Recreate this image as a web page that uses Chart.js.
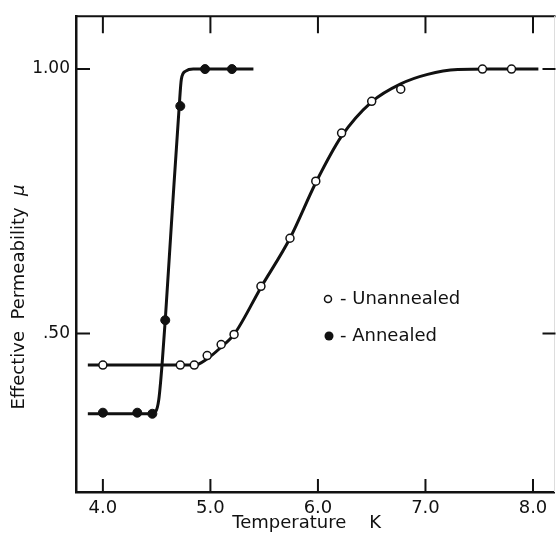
<!DOCTYPE html>
<html>
<head>
<meta charset="utf-8">
<script src="https://cdn.jsdelivr.net/npm/chart.js@4.4.0/dist/chart.umd.min.js"></script>
<style>
    html, body { margin: 0; padding: 0; background: #fff; overflow: hidden; }
    /* chart.js keeps a 5px right margin; widen a little so the frame hits the edge */
    #wrap { width: 560px; height: 534px; }
</style>
</head>
<body>
<div id="wrap"><canvas id="chart"></canvas></div>
<script>
// Measured points
const unannealedT  = [4.0, 4.72, 4.85, 4.97, 5.10, 5.22, 5.47, 5.74, 5.98, 6.22, 6.50, 6.77, 7.53, 7.80];
const unannealedMu = [0.44, 0.44, 0.44, 0.458, 0.479, 0.498, 0.589, 0.680, 0.788, 0.879, 0.939, 0.962, 1.0, 1.0];
const annealedT  = [4.0, 4.32, 4.46, 4.58, 4.72, 4.95, 5.20];
const annealedMu = [0.35, 0.35, 0.348, 0.525, 0.93, 1.0, 1.0];

// Hand-drawn curves
const unannealedCurveT  = [3.86, 4.85, 4.97, 5.10, 5.22, 5.47, 5.74, 5.98, 6.22, 6.50, 6.77, 7.02, 7.30, 7.60, 8.05];
const unannealedCurveMu = [0.44, 0.44, 0.452, 0.474, 0.498, 0.587, 0.680, 0.785, 0.873, 0.938, 0.972, 0.990, 0.999, 1.0, 1.0];
const annealedCurveT  = [3.86, 4.44, 4.49, 4.52, 4.55, 4.58, 4.645, 4.71, 4.73, 4.77, 4.84, 5.40];
const annealedCurveMu = [0.348, 0.348, 0.352, 0.375, 0.44, 0.525, 0.731, 0.930, 0.981, 0.996, 1.0, 1.0];

// Axes
const xTicks = [4, 5, 6, 7, 8];
const xTickLabels = ['4.0', '5.0', '6.0', '7.0', '8.0'];
const yTicks = [0.5, 1.0];
const yTickLabels = ['.50', '1.00'];

const INK = '#111';
const FONT = '"DejaVu Sans", sans-serif';

const toXY = (xs, ys) => xs.map((x, i) => ({ x: x, y: ys[i] }));

// --- frame, inward ticks, y title, legend ---
const decorPlugin = {
    id: 'decor',
    afterDraw(chart) {
        const ctx = chart.ctx;
        const a = chart.chartArea;
        const xs = chart.scales.x;
        const ys = chart.scales.y;
        ctx.save();
        ctx.strokeStyle = INK;

        // top and right border
        ctx.lineWidth = 2;
        ctx.beginPath();
        ctx.moveTo(a.left, a.top);
        ctx.lineTo(a.right + 1, a.top);
        ctx.stroke();
        ctx.lineWidth = 1;
        ctx.strokeStyle = '#ddd';
        ctx.beginPath();
        ctx.moveTo(a.right, a.top);
        ctx.lineTo(a.right, a.bottom);
        ctx.stroke();

        // inward ticks
        ctx.strokeStyle = INK;
        ctx.lineWidth = 2;
        xTicks.forEach(v => {
            const px = xs.getPixelForValue(v);
            ctx.beginPath();
            ctx.moveTo(px, a.bottom);
            ctx.lineTo(px, a.bottom - 13);
            ctx.moveTo(px, a.top);
            ctx.lineTo(px, a.top + 17);
            ctx.stroke();
        });
        yTicks.forEach(v => {
            const py = ys.getPixelForValue(v);
            ctx.beginPath();
            ctx.moveTo(a.left, py);
            ctx.lineTo(a.left + 14, py);
            ctx.moveTo(a.right - 12, py);
            ctx.lineTo(a.right + 1, py);
            ctx.stroke();
        });

        // y axis title
        ctx.fillStyle = INK;
        ctx.textBaseline = 'middle';
        const t1 = 'Effective  Permeability  ';
        ctx.font = '18px ' + FONT;
        const w1 = ctx.measureText(t1).width;
        ctx.font = 'italic 18px ' + FONT;
        const w2 = ctx.measureText('μ').width;
        ctx.translate(19, 297);
        ctx.rotate(-Math.PI / 2);
        ctx.textAlign = 'left';
        ctx.font = '18px ' + FONT;
        ctx.fillText(t1, -(w1 + w2) / 2, 0);
        ctx.font = 'italic 18px ' + FONT;
        ctx.fillText('μ', -(w1 + w2) / 2 + w1, 0);
        ctx.setTransform(1, 0, 0, 1, 0, 0);

        // legend
        ctx.font = '18px ' + FONT;
        ctx.textAlign = 'left';
        ctx.lineWidth = 1.5;
        ctx.beginPath();
        ctx.arc(328, 299, 3.5, 0, Math.PI * 2);
        ctx.fillStyle = '#fff';
        ctx.fill();
        ctx.stroke();
        ctx.beginPath();
        ctx.arc(329, 336, 4.5, 0, Math.PI * 2);
        ctx.fillStyle = INK;
        ctx.fill();
        ctx.fillText('- Unannealed', 340, 299);
        ctx.fillText('- Annealed', 340, 336);

        ctx.restore();
    }
};

const ctx = document.getElementById('chart').getContext('2d');
new Chart(ctx, {
    type: 'scatter',
    data: {
        datasets: [
            {
                label: 'Unannealed',
                data: toXY(unannealedT, unannealedMu),
                showLine: false,
                pointRadius: 4,
                pointBackgroundColor: '#fff',
                pointBorderColor: INK,
                pointBorderWidth: 1.5
            },
            {
                label: 'Annealed',
                data: toXY(annealedT, annealedMu),
                showLine: false,
                pointRadius: 4.5,
                pointBackgroundColor: INK,
                pointBorderColor: INK,
                pointBorderWidth: 1
            },
            {
                label: 'Unannealed curve',
                data: toXY(unannealedCurveT, unannealedCurveMu),
                showLine: true,
                pointRadius: 0,
                borderColor: INK,
                borderWidth: 3,
                cubicInterpolationMode: 'monotone'
            },
            {
                label: 'Annealed curve',
                data: toXY(annealedCurveT, annealedCurveMu),
                showLine: true,
                pointRadius: 0,
                borderColor: INK,
                borderWidth: 3,
                cubicInterpolationMode: 'monotone'
            }
        ]
    },
    options: {
        responsive: true,
        maintainAspectRatio: false,
        animation: false,
        layout: { padding: { top: 15, right: 1, left: 0, bottom: 0 } },
        plugins: {
            legend: { display: false },
            tooltip: { enabled: false }
        },
        scales: {
            x: {
                type: 'linear',
                min: 3.75,
                max: 8.2,
                afterBuildTicks: s => { s.ticks = xTicks.map(v => ({ value: v })); },
                afterFit: s => { s.height = 42; },
                grid: { display: false, drawTicks: false },
                border: { display: true, color: INK, width: 2.5 },
                ticks: {
                    color: INK,
                    padding: 6,
                    maxRotation: 0,
                    font: { family: FONT, size: 18 },
                    callback: (v, i) => xTickLabels[i]
                },
                title: {
                    display: true,
                    text: 'Temperature    K   ',
                    color: INK,
                    padding: 0,
                    font: { family: FONT, size: 18 }
                }
            },
            y: {
                type: 'linear',
                min: 0.2,
                max: 1.1,
                afterBuildTicks: s => { s.ticks = yTicks.map(v => ({ value: v })); },
                afterFit: s => { s.width = 76; },
                grid: { display: false, drawTicks: false },
                border: { display: true, color: INK, width: 2.5 },
                ticks: {
                    color: INK,
                    padding: 6,
                    font: { family: FONT, size: 17 },
                    callback: (v, i) => yTickLabels[i]
                }
            }
        }
    },
    plugins: [decorPlugin]
});
</script>
</body>
</html>
